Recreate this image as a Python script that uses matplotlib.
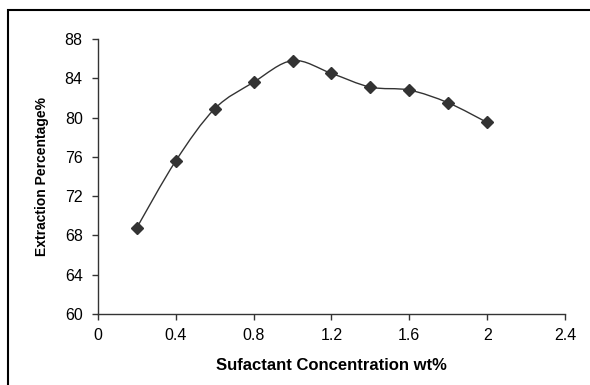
import matplotlib
matplotlib.use("Agg")
import matplotlib.pyplot as plt
from matplotlib.path import Path
from matplotlib.patches import PathPatch, Rectangle

# data
conc = [0.2, 0.4, 0.6, 0.8, 1.0, 1.2, 1.4, 1.6, 1.8, 2.0]
extraction = [68.8, 75.6, 80.9, 83.6, 85.8, 84.5, 83.1, 82.8, 81.5, 79.5]
x_ticks = [0, 0.4, 0.8, 1.2, 1.6, 2, 2.4]
y_ticks = [60, 64, 68, 72, 76, 80, 84, 88]

plt.rcParams['font.family'] = ['Liberation Sans', 'DejaVu Sans']

def smooth_path(xs, ys):
    # Excel-style smoothed line: Catmull-Rom segments as cubic Beziers
    pts = list(zip(xs, ys))
    verts = [pts[0]]
    codes = [Path.MOVETO]
    n = len(pts)
    for i in range(n - 1):
        p0 = pts[i - 1] if i > 0 else pts[i]
        p1 = pts[i]
        p2 = pts[i + 1]
        p3 = pts[i + 2] if i + 2 < n else pts[i + 1]
        c1 = (p1[0] + (p2[0] - p0[0]) / 6, p1[1] + (p2[1] - p0[1]) / 6)
        c2 = (p2[0] - (p3[0] - p1[0]) / 6, p2[1] - (p3[1] - p1[1]) / 6)
        verts += [c1, c2, p2]
        codes += [Path.CURVE4] * 3
    return Path(verts, codes)

fig = plt.figure(figsize=(5.9, 3.85), dpi=100)
ax = fig.add_axes([0.1661, 0.1844, 0.7915, 0.7143])

ax.add_patch(PathPatch(smooth_path(conc, extraction), facecolor='none',
                       edgecolor='#333333', lw=1.0))
ax.plot(conc, extraction, linestyle='none', marker='D', markersize=6,
        color='#333333')

ax.set_xlim(0, 2.4)
ax.set_ylim(60, 88)
ax.set_xticks(x_ticks)
ax.set_xticklabels([f"{t:g}" for t in x_ticks])
ax.set_yticks(y_ticks)
ax.tick_params(axis='both', direction='out', length=4, width=1, labelsize=11.5,
               color='#333333')
ax.tick_params(axis='x', pad=6)
ax.tick_params(axis='y', pad=7)
for s in ['top', 'right']:
    ax.spines[s].set_visible(False)
for s in ['left', 'bottom']:
    ax.spines[s].set_color('#333333')
    ax.spines[s].set_linewidth(1.0)

ax.set_xlabel("Sufactant Concentration wt%", fontsize=12, fontweight='bold',
              labelpad=11)
ax.set_ylabel("Extraction Percentage%", fontsize=10, fontweight='bold',
              labelpad=11)

# outer frame running off the right and bottom edges
fig.patches.append(Rectangle((8 / 590, -0.1), 1.2, 1.1 - 10 / 385,
                             transform=fig.transFigure, fill=False,
                             edgecolor='black', lw=1.5))

fig.savefig("out.png", dpi=100)
